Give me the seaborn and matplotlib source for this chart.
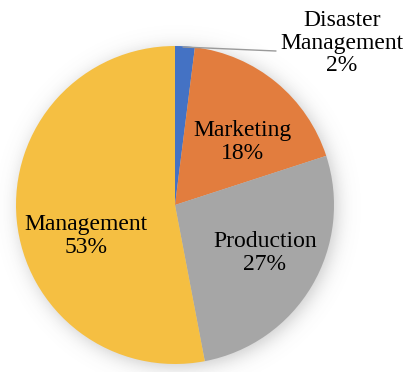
import numpy as np
import matplotlib
matplotlib.use("Agg")
import matplotlib.pyplot as plt
import seaborn as sns

# Share of respondents by functional area
categories = ["Disaster\nManagement", "Marketing", "Production", "Management"]
shares = [2, 18, 27, 53]
colors = ["#4472C4", "#E27D3E", "#A6A6A6", "#F5BF42"]

sns.set_theme(style="white")
plt.rcParams["font.family"] = ["Liberation Serif", "DejaVu Serif"]

W, H = 406, 372
fig = plt.figure(figsize=(W / 100, H / 100), dpi=100)
ax = fig.add_axes([0, 0, 1, 1])
ax.set_xlim(0, W)
ax.set_ylim(0, H)
ax.set_aspect("equal")
ax.axis("off")

cx, cy, r = 175, H - 205, 159

# soft drop shadow around the pie
yy, xx = np.mgrid[0:H, 0:W]
d = np.hypot(xx + 0.5 - (cx + 3), (H - yy - 0.5) - (cy - 3))
alpha = 0.32 / (1 + np.exp((d - r) / 5.5))
shadow = np.zeros((H, W, 4))
shadow[..., :3] = 0.35
shadow[..., 3] = alpha
ax.imshow(shadow, extent=(0, W, 0, H), origin="upper", zorder=0)

wedges, _ = ax.pie(shares, colors=colors, startangle=90, counterclock=False,
                   center=(cx, cy), radius=r, frame=True,
                   wedgeprops=dict(linewidth=0))
for w in wedges:
    w.set_zorder(1)
ax.set_xlim(0, W)
ax.set_ylim(0, H)
ax.axis("off")

fs = 17
label_pos = [(342, H - 43), (242, H - 142), (265, H - 253), (86, H - 236)]
for cat, val, (x, y) in zip(categories, shares, label_pos):
    ax.text(x, y, f"{cat}\n{val}%", ha="center", va="center", fontsize=fs,
            linespacing=1.07, color="black", zorder=3)

# leader line for the small slice
ax.plot([183, 276], [H - 47, H - 51], color="#9A9A9A", linewidth=1.0, zorder=2)

fig.savefig("out.png", dpi=100)
